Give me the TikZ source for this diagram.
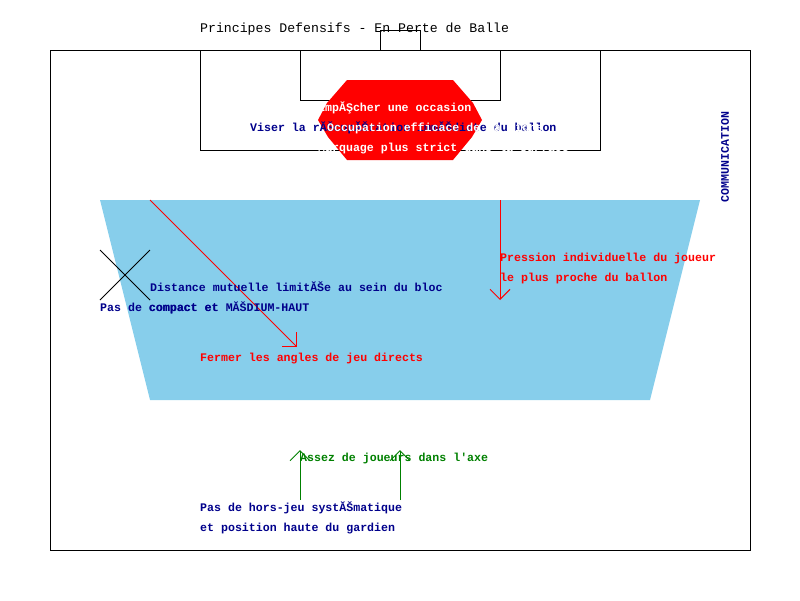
\documentclass[tikz,border=0pt]{standalone}
\usepackage{fontspec}
\setmonofont{Liberation Mono}
\usetikzlibrary{arrows.meta}
\definecolor{navyb}{RGB}{0,0,139}
\definecolor{skyb}{RGB}{135,206,235}
\definecolor{grn}{RGB}{0,128,0}
\tikzset{
  lbl/.style={font=\ttfamily\bfseries\fontsize{11.6}{20}\selectfont, anchor=mid west, inner sep=0pt, yshift=-2pt},
  ttl/.style={font=\ttfamily\fontsize{13.2}{16}\selectfont, anchor=mid west, inner sep=0pt, yshift=-2pt},
  fieldline/.style={draw=black, line width=1pt},
  barb/.style={-{Straight Barb[length=10pt,width=20pt,line width=1pt]}, line width=1pt}
}
\begin{document}
\begin{tikzpicture}[x=1pt,y=-1pt]
\useasboundingbox (0,0) rectangle (800,600);
% pitch
\draw[fieldline] (50,50) rectangle (750,550);
\draw[fieldline] (200,50) rectangle (600,150);
\draw[fieldline] (300,50) rectangle (500,100);
\draw[fieldline] (380,30) rectangle (420,50);
\node[ttl] (title) at (200,28) {Principes Defensifs - En Perte de Balle};
% hexagon
\fill[red] (347,80) -- (453,80) -- (473,103) -- (482,120) -- (472,137) -- (453,160)
  -- (347,160) -- (328,137) -- (318,120) -- (327,103) -- cycle;
\node[lbl, text=navyb] (recup) at (250,127) {Viser la rĂŠcupĂŠration immĂŠdiate du ballon};
\node[lbl, text=white] (emp) at (318,107) {EmpĂŞcher une occasion};
\node[lbl, text=white] (occ) at (327,127) {Occupation efficace de la ligne};
\node[lbl, text=white] (marq) at (318,147) {Marquage plus strict dans la surface};
\node[lbl, text=navyb, rotate=90, anchor=center, yshift=2pt] (comm) at (727,155) {COMMUNICATION};
% block
\fill[skyb] (100,200) -- (700,200) -- (650,400) -- (150,400) -- cycle;
\coordinate (d1) at (150,200);
\coordinate (d2) at (297,347);
\draw[barb, red] (d1) -- (d2);
\coordinate (p1) at (500,200);
\coordinate (p2) at (500,300);
\draw[barb, red] (p1) -- (p2);
\node[lbl, text=red] (press1) at (500,257) {Pression individuelle du joueur};
\node[lbl, text=red] (press2) at (500,277) {le plus proche du ballon};
\node[lbl, text=red] (fermer) at (200,357) {Fermer les angles de jeu directs};
\coordinate (x1) at (100,250);
\coordinate (x2) at (150,300);
\coordinate (x3) at (100,300);
\coordinate (x4) at (150,250);
\draw[black, line width=0.8pt] (x1) -- (x2);
\draw[black, line width=0.8pt] (x3) -- (x4);
\node[lbl, text=navyb] (dist) at (150,287) {Distance mutuelle limitĂŠe au sein du bloc};
\node[lbl, text=navyb] (dist2) at (149,307) {compact et MĂŠDIUM-HAUT};
\node[lbl, text=navyb] (pasde) at (100,307) {Pas de compact et};
% green arrows
\coordinate (g1) at (300,500);
\coordinate (g2) at (300,450);
\coordinate (g3) at (400,500);
\coordinate (g4) at (400,450);
\draw[barb, grn] (g1) -- (g2);
\draw[barb, grn] (g3) -- (g4);
\node[lbl, text=grn] (assez) at (300,457) {Assez de joueurs dans l'axe};
\node[lbl, text=navyb] (hj1) at (200,507) {Pas de hors-jeu systĂŠmatique};
\node[lbl, text=navyb] (hj2) at (200,527) {et position haute du gardien};
\end{tikzpicture}
\end{document}
